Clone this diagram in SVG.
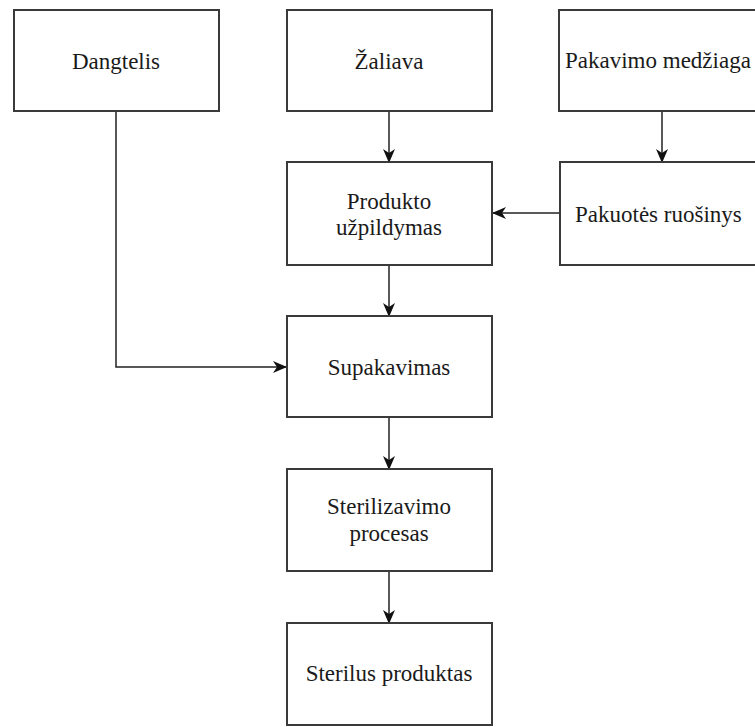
<svg xmlns="http://www.w3.org/2000/svg" width="755" height="727" viewBox="0 0 755 727">
  <style>
    .box { fill: #ffffff; stroke: #3a3a3a; stroke-width: 2; }
    text { font-family: "Liberation Serif", "Times New Roman", Times, "DejaVu Serif", serif; font-size: 23px; fill: #1a1a1a; }
    .c { text-anchor: middle; }
    .edge { fill: none; stroke: #222222; stroke-width: 1.5; marker-end: url(#arrow); }
  </style>
  <defs>
    <marker id="arrow" viewBox="0 0 14 14" refX="13" refY="7" markerWidth="14" markerHeight="14" markerUnits="userSpaceOnUse" orient="auto">
      <path d="M0,1 L14,7 L0,13 L4,7 Z" fill="#111111"/>
    </marker>
  </defs>
  <rect width="755" height="727" fill="#ffffff"/>

  <g id="connectors">
    <path class="edge" d="M389,111 V162"/>
    <path class="edge" d="M662,111 V162"/>
    <path class="edge" d="M560,213 H493"/>
    <path class="edge" d="M389,265 V316"/>
    <path class="edge" d="M116,111 V367 H286"/>
    <path class="edge" d="M389,417 V469"/>
    <path class="edge" d="M389,571 V623"/>
  </g>

  <g id="dangtelis">
    <rect class="box" x="14" y="10" width="205" height="101"/>
    <text class="c" x="116" y="69" font-family="Liberation Serif, serif">Dangtelis</text>
  </g>
  <g id="zaliava">
    <rect class="box" x="287" y="10" width="205" height="101"/>
    <text class="c" x="389" y="69" font-family="Liberation Serif, serif">Žaliava</text>
  </g>
  <g id="pakavimo-medziaga">
    <rect class="box" x="559" y="10" width="220" height="101"/>
    <text x="565" y="68" font-family="Liberation Serif, serif">Pakavimo medžiaga</text>
  </g>
  <g id="produkto-uzpildymas">
    <rect class="box" x="287" y="162" width="205" height="103"/>
    <text class="c" x="389" y="209" font-family="Liberation Serif, serif">Produkto</text>
    <text class="c" x="389" y="235" font-family="Liberation Serif, serif">užpildymas</text>
  </g>
  <g id="pakuotes-ruosinys">
    <rect class="box" x="560" y="162" width="220" height="103"/>
    <text x="575" y="222" font-family="Liberation Serif, serif">Pakuotės ruošinys</text>
  </g>
  <g id="supakavimas">
    <rect class="box" x="287" y="316" width="205" height="101"/>
    <text class="c" x="389" y="375" font-family="Liberation Serif, serif">Supakavimas</text>
  </g>
  <g id="sterilizavimo-procesas">
    <rect class="box" x="287" y="469" width="205" height="102"/>
    <text class="c" x="389" y="514" font-family="Liberation Serif, serif">Sterilizavimo</text>
    <text class="c" x="389" y="541" font-family="Liberation Serif, serif">procesas</text>
  </g>
  <g id="sterilus-produktas">
    <rect class="box" x="287" y="623" width="205" height="102"/>
    <text class="c" x="389" y="681" font-family="Liberation Serif, serif">Sterilus produktas</text>
  </g>
</svg>
